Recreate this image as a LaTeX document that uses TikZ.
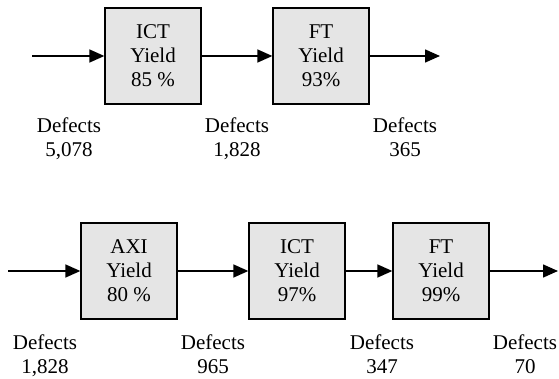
\documentclass[tikz,border=0pt]{standalone}
\usepackage{fontspec}
\setmainfont{Liberation Serif}
\usetikzlibrary{arrows.meta}
\tikzset{
  stage/.style={draw=black, line width=1.3pt, fill=black!10, minimum width=96pt, minimum height=96pt, inner sep=0pt, align=center, font=\fontsize{21}{24}\selectfont},
  defect/.style={align=center, inner sep=0pt, text height=39pt, text depth=5pt, font=\fontsize{21}{24}\selectfont},
  flow/.style={line width=1.5pt, -{Triangle[length=15pt,width=13pt]}}
}
\begin{document}
\begin{tikzpicture}[x=1pt,y=-1pt]
\useasboundingbox (0,0) rectangle (559,379);
% top row
\node[stage] (ict1) at (153,56) {ICT\\Yield\\85 \%};
\node[stage] (ft1) at (321,56) {FT\\Yield\\93\%};
\coordinate (in1) at (32,56);
\coordinate (out1) at (440,56);
\draw[flow] (in1) -- (ict1);
\draw[flow] (ict1) -- (ft1);
\draw[flow] (ft1) -- (out1);
\node[defect] (d1) at (69,140) {Defects\\5,078};
\node[defect] (d2) at (237,140) {Defects\\1,828};
\node[defect] (d3) at (405,140) {Defects\\365};
% bottom row
\node[stage] (axi2) at (129,271) {AXI\\Yield\\80 \%};
\node[stage] (ict2) at (297,271) {ICT\\Yield\\97\%};
\node[stage] (ft2) at (441,271) {FT\\Yield\\99\%};
\coordinate (in2) at (8,271);
\coordinate (out2) at (558,271);
\draw[flow] (in2) -- (axi2);
\draw[flow] (axi2) -- (ict2);
\draw[flow] (ict2) -- (ft2);
\draw[flow] (ft2) -- (out2);
\node[defect] (e1) at (45,356) {Defects\\1,828};
\node[defect] (e2) at (213,356) {Defects\\965};
\node[defect] (e3) at (382,356) {Defects\\347};
\node[defect] (e4) at (525,356) {Defects\\70};
\end{tikzpicture}
\end{document}
